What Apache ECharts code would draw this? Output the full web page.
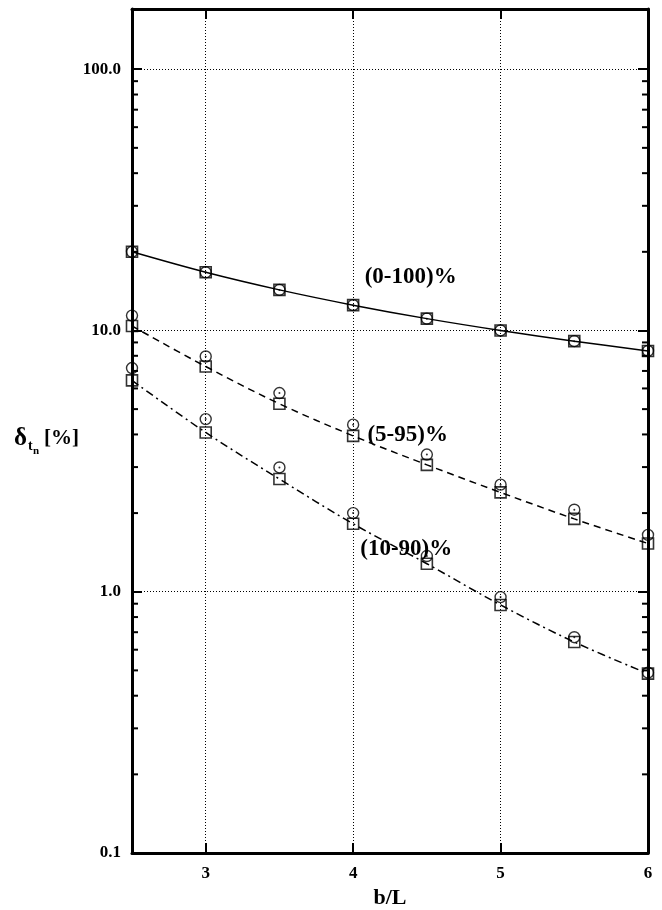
<!DOCTYPE html>
<html>
<head>
<meta charset="utf-8">
<script src="https://cdn.jsdelivr.net/npm/echarts@6/dist/echarts.min.js"></script>
<style>
html,body{margin:0;padding:0;background:#fff;}
#chart{width:662px;height:910px;}
</style>
</head>
<body>
<div id="chart"></div>
<script>
// ---- data ----
const bL = [2.5, 3, 3.5, 4, 4.5, 5, 5.5, 6];
const sq_0_100 = [20.0, 16.7, 14.3, 12.5, 11.1, 10.0, 9.1, 8.35];
const ci_0_100 = [20.0, 16.7, 14.3, 12.5, 11.1, 10.0, 9.1, 8.35];
const sq_5_95 = [10.4, 7.28, 5.24, 3.95, 3.06, 2.40, 1.90, 1.53];
const ci_5_95 = [11.4, 7.95, 5.76, 4.36, 3.35, 2.57, 2.06, 1.65];
const sq_10_90 = [6.44, 4.07, 2.70, 1.82, 1.28, 0.89, 0.642, 0.486];
const ci_10_90 = [7.18, 4.58, 2.99, 2.00, 1.37, 0.954, 0.67, 0.49];
const yMajorLabels = [0.1, 1, 10, 100];
const yMinorTicks = [0.2,0.3,0.4,0.5,0.6,0.7,0.8,0.9, 2,3,4,5,6,7,8,9, 20,30,40,50,60,70,80,90];
const seriesNames = ['(0-100)%', '(5-95)%', '(10-90)%'];
const xMin = 2.5, xMax = 6, yMin = 0.1, yMax = 170;

const zip = (xs, ys) => xs.map((x, i) => [x, ys[i]]);
const serif = '"Liberation Serif", "DejaVu Serif", serif';

const tickLabelStyle = { fontFamily: serif, fontWeight: 'bold', fontSize: 17, color: '#000' };
const axisLineStyle = { show: true, lineStyle: { color: '#000', width: 3 } };
const gridLineStyle = { show: true, lineStyle: { color: '#000', width: 1, type: [1, 2] } };

function xAxisDef(pos, labels) {
  return {
    type: 'value', position: pos, min: xMin, max: xMax, minInterval: 1, maxInterval: 1,
    axisLine: axisLineStyle,
    axisTick: { show: true, inside: true, length: 10, lineStyle: { color: '#000', width: 2 } },
    axisLabel: labels ? Object.assign({ margin: 12, showMinLabel: false,
      formatter: v => Number.isInteger(v) ? String(v) : '' }, tickLabelStyle) : { show: false },
    splitLine: labels ? gridLineStyle : { show: false },
    name: labels ? 'b/L' : '', nameLocation: 'middle', nameGap: 34,
    nameTextStyle: { fontFamily: serif, fontWeight: 'bold', fontSize: 22, color: '#000' }
  };
}
function isMajor(v) {
  const l = Math.log10(v);
  return Math.abs(l - Math.round(l)) < 1e-6 && v < 150;
}
function yAxisDef(pos, labels) {
  return {
    type: 'log', logBase: 10, position: pos, min: yMin, max: yMax,
    axisLine: axisLineStyle,
    axisTick: { show: true, inside: true, length: 10, lineStyle: { color: '#000', width: 2 } },
    axisLabel: labels ? Object.assign({ margin: 11, showMaxLabel: false,
      formatter: v => isMajor(v) ? Number(v).toFixed(1) : '' }, tickLabelStyle) : { show: false },
    splitLine: labels ? gridLineStyle : { show: false }
  };
}

const lineTypes = ['solid', [7, 5], [8, 4, 2, 4]];
const sqSets = [sq_0_100, sq_5_95, sq_10_90];
const ciSets = [ci_0_100, ci_5_95, ci_10_90];
const labelAnchors = [[4.39, 16.05], [4.37, 3.99], [4.36, 1.46]];

const series = [];
// minor ticks on both vertical frame edges
series.push({
  type: 'custom', xAxisIndex: 0, yAxisIndex: 0, silent: true, z: 5,
  data: yMinorTicks.map(v => [xMin, v]),
  renderItem: function (params, api) {
    const p = api.coord([api.value(0), api.value(1)]);
    const cs = params.coordSys;
    const st = { stroke: '#000', lineWidth: 2 };
    return { type: 'group', children: [
      { type: 'line', shape: { x1: cs.x, y1: p[1], x2: cs.x + 6, y2: p[1] }, style: st },
      { type: 'line', shape: { x1: cs.x + cs.width, y1: p[1], x2: cs.x + cs.width - 6, y2: p[1] }, style: st }
    ]};
  }
});
sqSets.forEach((sq, k) => {
  series.push({
    name: seriesNames[k], type: 'line', data: zip(bL, sq), smooth: 0.35, showSymbol: false,
    lineStyle: { color: '#000', width: 1.5, type: lineTypes[k] }, z: 3, silent: true,
    markPoint: {
      symbol: 'circle', symbolSize: 1, silent: true,
      itemStyle: { color: 'rgba(0,0,0,0)' },
      label: { show: true, position: 'inside', formatter: seriesNames[k], fontFamily: serif, fontSize: 23, fontWeight: 'bold', color: '#000' },
      data: [{ coord: labelAnchors[k] }]
    }
  });
  series.push({
    type: 'scatter', data: zip(bL, sq), symbol: 'rect', symbolSize: 11, z: 4, silent: true,
    itemStyle: { color: 'rgba(0,0,0,0)', borderColor: '#000', borderWidth: 1.6 }
  });
  series.push({
    type: 'scatter', data: zip(bL, ciSets[k]), symbol: 'circle', symbolSize: 11, z: 4, silent: true,
    itemStyle: { color: 'rgba(0,0,0,0)', borderColor: '#000', borderWidth: 1.4 }
  });
  series.push({
    type: 'scatter', data: zip(bL, ciSets[k]), symbol: 'circle', symbolSize: 2, z: 4, silent: true,
    itemStyle: { color: '#000' }
  });
});

const chart = echarts.init(document.getElementById('chart'), null, { renderer: 'canvas' });
chart.setOption({
  animation: false,
  backgroundColor: '#fff',
  grid: { left: 132, right: 14, top: 9, bottom: 57, containLabel: false, outerBoundsMode: 'none' },
  xAxis: [xAxisDef('bottom', true), xAxisDef('top', false)],
  yAxis: [yAxisDef('left', true), yAxisDef('right', false)],
  series: series,
  graphic: [{
    type: 'group', left: 14, top: 426,
    children: [
      { type: 'text', x: 0, y: 0, style: { text: 'δ', font: 'bold 25px ' + serif, fill: '#000' } },
      { type: 'text', x: 14, y: 13, style: { text: 't', font: 'bold 14px ' + serif, fill: '#000' } },
      { type: 'text', x: 19, y: 20, style: { text: 'n', font: 'bold 11px ' + serif, fill: '#000' } },
      { type: 'text', x: 30, y: 2, style: { text: '[%]', font: 'bold 21px ' + serif, fill: '#000' } }
    ]
  }]
});
</script>
</body>
</html>
